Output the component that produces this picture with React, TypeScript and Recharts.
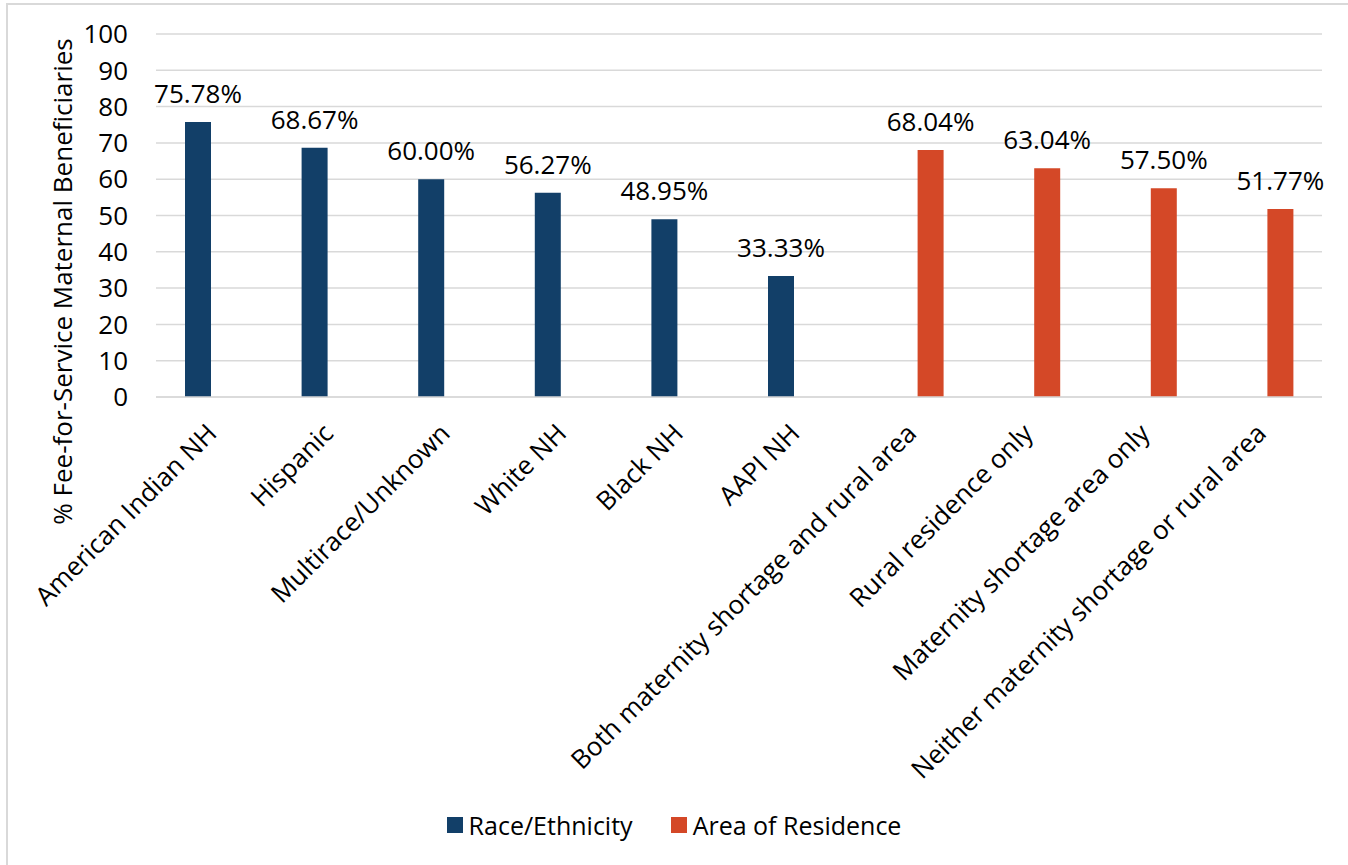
import React from 'react';
import { BarChart, Bar, XAxis, YAxis, CartesianGrid, LabelList, Legend, Label } from 'recharts';

const categories = [
  'American Indian NH',
  'Hispanic',
  'Multirace/Unknown',
  'White NH',
  'Black NH',
  'AAPI NH',
  'Both maternity shortage and rural area',
  'Rural residence only',
  'Maternity shortage area only',
  'Neither maternity shortage or rural area',
];
const raceValues: (number | null)[] = [75.78, 68.67, 60.0, 56.27, 48.95, 33.33, null, null, null, null];
const areaValues: (number | null)[] = [null, null, null, null, null, null, 68.04, 63.04, 57.5, 51.77];
const yTicks = [0, 10, 20, 30, 40, 50, 60, 70, 80, 90, 100];
const seriesNames = ['Race/Ethnicity', 'Area of Residence'];

const NAVY = '#123F68';
const ORANGE = '#D44827';
const FONT = '"Open Sans", sans-serif';
const FS = 26;

const data = categories.map((c, i) => ({ name: c, race: raceValues[i], area: areaValues[i] }));

const fmt = (v: any) => (v == null ? '' : `${Number(v).toFixed(2)}%`);

const XTick = (props: any) => {
  const { x, y, payload } = props;
  return (
    <g transform={`translate(${x + 4},${y})`}>
      <text
        transform="rotate(-45)"
        textAnchor="end"
        fontFamily={FONT}
        fontSize={FS}
        fill="#000"
        x={0}
        y={0}
      >
        {payload.value}
      </text>
    </g>
  );
};

const LegendContent = (props: any) => {
  const items = [
    { name: seriesNames[0], color: NAVY },
    { name: seriesNames[1], color: ORANGE },
  ];
  return (
    <div style={{ display: 'flex', justifyContent: 'center', alignItems: 'center', fontFamily: FONT, fontSize: 25, color: '#000' }}>
      {items.map((it, i) => (
        <div key={it.name} style={{ display: 'flex', alignItems: 'center', marginLeft: i === 0 ? 0 : 38 }}>
          <div style={{ width: 16, height: 16, background: it.color, marginRight: 6 }} />
          <span>{it.name}</span>
        </div>
      ))}
    </div>
  );
};

export default function App() {
  return (
    <div style={{ position: 'absolute', left: 0, top: 0, width: 1348, height: 865, overflow: 'hidden', background: '#fff' }}>
      <div style={{ position: 'absolute', left: 6, top: 3, width: 1400, height: 900, border: '2px solid #D9D9D9' }} />
      <div style={{ position: 'absolute', left: 0, top: 0 }}>
        <BarChart
          width={1348}
          height={865}
          data={data}
          margin={{ top: 34, right: 26, left: 0, bottom: 0 }}
          barSize={26}
          barGap={7}
        >
          <CartesianGrid vertical={false} stroke="#D9D9D9" strokeWidth={1.5} />
          <XAxis
            dataKey="name"
            interval={0}
            height={468}
            tick={<XTick />}
            tickLine={false}
            axisLine={{ stroke: '#D9D9D9', strokeWidth: 1.5 }}
            tickSize={0}
            tickMargin={38}
          />
          <YAxis
            domain={[0, 100]}
            ticks={yTicks}
            interval={0}
            width={156}
            tickLine={false}
            axisLine={false}
            tickMargin={22}
            tick={{ fontFamily: FONT, fontSize: FS, fill: '#000' }}
          >
            <Label
              content={(p: any) => {
                const vb = p.viewBox;
                const cx = 62;
                const cy = vb.y + vb.height / 2 + 66;
                return (
                  <text
                    x={cx}
                    y={cy}
                    transform={`rotate(-90, ${cx}, ${cy})`}
                    textAnchor="middle"
                    dominantBaseline="central"
                    fontFamily={FONT}
                    fontSize={FS}
                    fill="#000"
                  >
                    % Fee-for-Service Maternal Beneficiaries
                  </text>
                );
              }}
            />
          </YAxis>
          <Legend
            verticalAlign="middle"
            layout="horizontal"
            align="center"
            wrapperStyle={{ top: 808, left: 0, width: 1348 }}
            content={<LegendContent />}
          />
          <Bar dataKey="race" name={seriesNames[0]} fill={NAVY} isAnimationActive={false}>
            <LabelList dataKey="race" position="top" offset={19} formatter={fmt} style={{ fontFamily: FONT, fontSize: FS, fill: '#000' }} />
          </Bar>
          <Bar dataKey="area" name={seriesNames[1]} fill={ORANGE} isAnimationActive={false}>
            <LabelList dataKey="area" position="top" offset={19} formatter={fmt} style={{ fontFamily: FONT, fontSize: FS, fill: '#000' }} />
          </Bar>
        </BarChart>
      </div>
    </div>
  );
}
